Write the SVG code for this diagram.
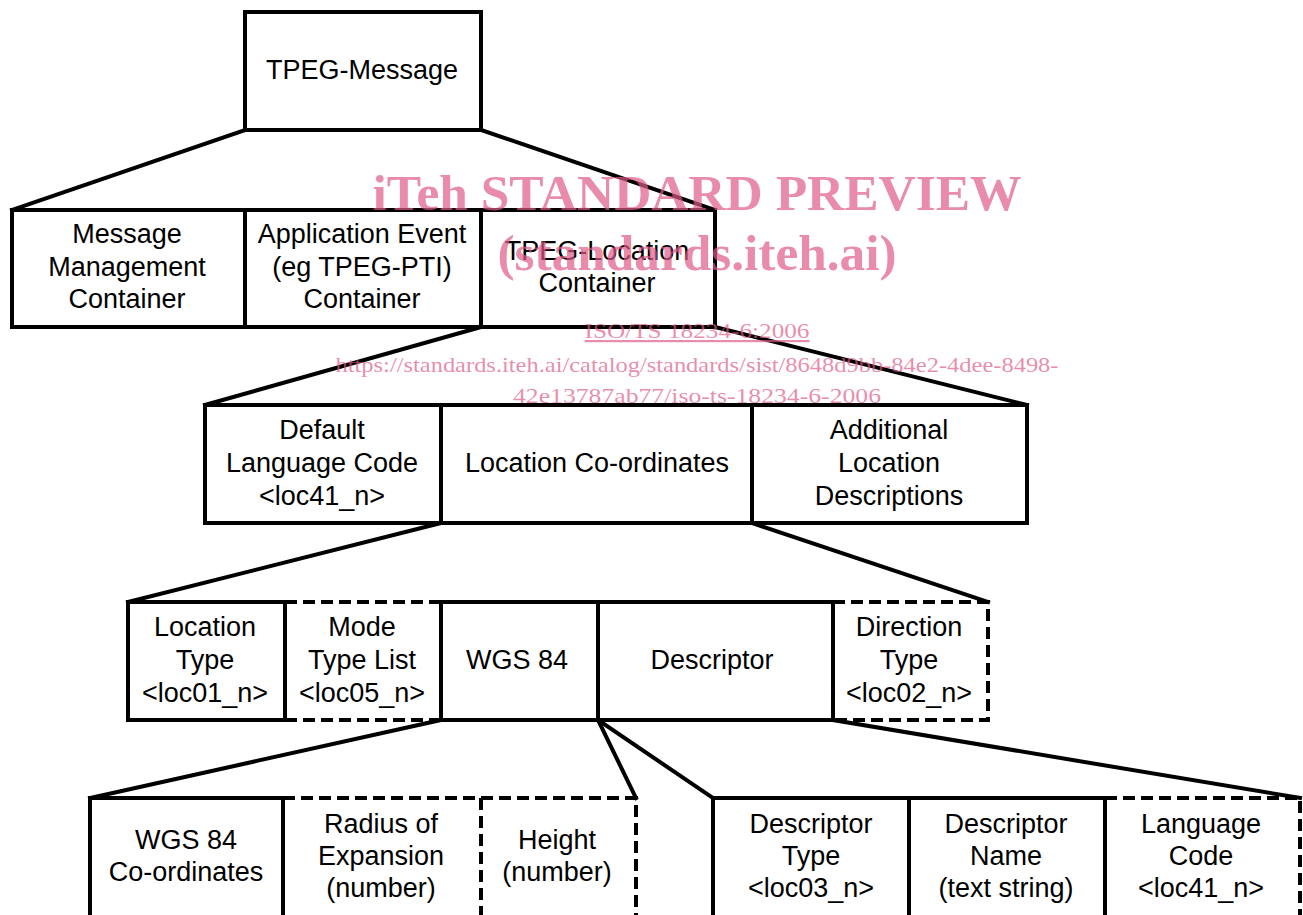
<svg xmlns="http://www.w3.org/2000/svg" width="1303" height="915" viewBox="0 0 1303 915">
  <style>
    .box { fill: none; stroke: #000; stroke-width: 4; stroke-linejoin: miter; }
    .dash { fill: none; stroke: #000; stroke-width: 4; stroke-dasharray: 12 6; }
    .conn { fill: none; stroke: #000; stroke-width: 4; stroke-linecap: square; }
    .lbl { font-family: "Liberation Sans", Arial, sans-serif; font-size: 27px; fill: #000; text-anchor: middle; }
    .wm-big { font-family: "Liberation Serif", "Times New Roman", serif; font-weight: bold; font-size: 50px; fill: #e05a88; fill-opacity: 0.7; text-anchor: middle; }
    .wm-small { font-family: "Liberation Serif", "Times New Roman", serif; font-size: 22px; fill: #e05a88; fill-opacity: 0.7; text-anchor: middle; }
  </style>
  <rect width="1303" height="915" fill="#fff"/>

  <!-- expansion connectors -->
  <g id="connectors">
    <line class="conn" x1="245" y1="130" x2="12" y2="210"/>
    <line class="conn" x1="481" y1="130" x2="715" y2="210"/>
    <line class="conn" x1="481" y1="327" x2="205" y2="405"/>
    <line class="conn" x1="715" y1="327" x2="1027" y2="405"/>
    <line class="conn" x1="441" y1="523" x2="128" y2="602"/>
    <line class="conn" x1="752" y1="523" x2="988" y2="602"/>
    <line class="conn" x1="441" y1="720" x2="90" y2="798"/>
    <line class="conn" x1="598" y1="720" x2="636" y2="798"/>
    <line class="conn" x1="598" y1="720" x2="713" y2="798"/>
    <line class="conn" x1="833" y1="720" x2="1300" y2="798"/>
  </g>

  <!-- level 0 -->
  <g id="tpeg-message">
    <rect class="box" x="245" y="12" width="236" height="118"/>
    <text class="lbl" x="362" y="79">TPEG-Message</text>
  </g>

  <!-- level 1 -->
  <g id="message-management">
    <rect class="box" x="12" y="210" width="233" height="117"/>
    <text class="lbl" x="127" y="243">Message</text>
    <text class="lbl" x="127" y="276">Management</text>
    <text class="lbl" x="127" y="308">Container</text>
  </g>
  <g id="application-event">
    <rect class="box" x="245" y="210" width="236" height="117"/>
    <text class="lbl" x="362" y="243">Application Event</text>
    <text class="lbl" x="362" y="276">(eg TPEG-PTI)</text>
    <text class="lbl" x="362" y="308">Container</text>
  </g>
  <g id="tpeg-location">
    <rect class="box" x="481" y="210" width="234" height="117"/>
    <text class="lbl" x="597" y="260">TPEG-Location</text>
    <text class="lbl" x="597" y="292">Container</text>
  </g>

  <!-- level 2 -->
  <g id="default-language">
    <rect class="box" x="205" y="405" width="236" height="118"/>
    <text class="lbl" x="322" y="439">Default</text>
    <text class="lbl" x="322" y="472">Language Code</text>
    <text class="lbl" x="322" y="505">&lt;loc41_n&gt;</text>
  </g>
  <g id="location-coordinates">
    <rect class="box" x="441" y="405" width="311" height="118"/>
    <text class="lbl" x="597" y="472">Location Co-ordinates</text>
  </g>
  <g id="additional-descriptions">
    <rect class="box" x="752" y="405" width="275" height="118"/>
    <text class="lbl" x="889" y="439">Additional</text>
    <text class="lbl" x="889" y="472">Location</text>
    <text class="lbl" x="889" y="505">Descriptions</text>
  </g>

  <!-- level 3 -->
  <g id="location-type">
    <rect class="box" x="128" y="602" width="157" height="118"/>
    <text class="lbl" x="205" y="636">Location</text>
    <text class="lbl" x="205" y="669">Type</text>
    <text class="lbl" x="205" y="702">&lt;loc01_n&gt;</text>
  </g>
  <g id="mode-type-list">
    <path class="dash" d="M285 602 H441 M285 720 H441"/>
    <text class="lbl" x="362" y="636">Mode</text>
    <text class="lbl" x="362" y="669">Type List</text>
    <text class="lbl" x="362" y="702">&lt;loc05_n&gt;</text>
  </g>
  <g id="wgs84">
    <rect class="box" x="441" y="602" width="157" height="118"/>
    <text class="lbl" x="517" y="669">WGS 84</text>
  </g>
  <g id="descriptor">
    <rect class="box" x="598" y="602" width="235" height="118"/>
    <text class="lbl" x="712" y="669">Descriptor</text>
  </g>
  <g id="direction-type">
    <path class="dash" d="M833 602 H988 V720 H833"/>
    <text class="lbl" x="909" y="636">Direction</text>
    <text class="lbl" x="909" y="669">Type</text>
    <text class="lbl" x="909" y="702">&lt;loc02_n&gt;</text>
  </g>

  <!-- level 4: WGS 84 parts -->
  <g id="wgs84-coordinates">
    <rect class="box" x="90" y="798" width="193" height="140"/>
    <text class="lbl" x="186" y="849">WGS 84</text>
    <text class="lbl" x="186" y="881">Co-ordinates</text>
  </g>
  <g id="radius">
    <path class="dash" d="M283 798 H481 V940"/>
    <text class="lbl" x="381" y="833">Radius of</text>
    <text class="lbl" x="381" y="865">Expansion</text>
    <text class="lbl" x="381" y="897">(number)</text>
  </g>
  <g id="height">
    <path class="dash" d="M481 798 H636 V940"/>
    <text class="lbl" x="557" y="849">Height</text>
    <text class="lbl" x="557" y="881">(number)</text>
  </g>

  <!-- level 4: Descriptor parts -->
  <g id="descriptor-type">
    <rect class="box" x="713" y="798" width="196" height="140"/>
    <text class="lbl" x="811" y="833">Descriptor</text>
    <text class="lbl" x="811" y="865">Type</text>
    <text class="lbl" x="811" y="897">&lt;loc03_n&gt;</text>
  </g>
  <g id="descriptor-name">
    <rect class="box" x="909" y="798" width="196" height="140"/>
    <text class="lbl" x="1006" y="833">Descriptor</text>
    <text class="lbl" x="1006" y="865">Name</text>
    <text class="lbl" x="1006" y="897">(text string)</text>
  </g>
  <g id="language-code">
    <path class="dash" d="M1105 798 H1300 V940"/>
    <text class="lbl" x="1201" y="833">Language</text>
    <text class="lbl" x="1201" y="865">Code</text>
    <text class="lbl" x="1201" y="897">&lt;loc41_n&gt;</text>
  </g>

  <!-- publisher overlay -->
  <g id="overlay">
    <text class="wm-big" x="697" y="210" textLength="649" lengthAdjust="spacingAndGlyphs">iTeh STANDARD PREVIEW</text>
    <text class="wm-big" x="697" y="270" textLength="399" lengthAdjust="spacingAndGlyphs">(standards.iteh.ai)</text>
    <text class="wm-small" x="697" y="338" textLength="225" lengthAdjust="spacingAndGlyphs" text-decoration="underline">ISO/TS 18234-6:2006</text>
    <text class="wm-small" x="697" y="372" textLength="723" lengthAdjust="spacingAndGlyphs">https://standards.iteh.ai/catalog/standards/sist/8648d9bb-84e2-4dee-8498-</text>
    <text class="wm-small" x="697" y="403" textLength="368" lengthAdjust="spacingAndGlyphs">42e13787ab77/iso-ts-18234-6-2006</text>
  </g>
</svg>
